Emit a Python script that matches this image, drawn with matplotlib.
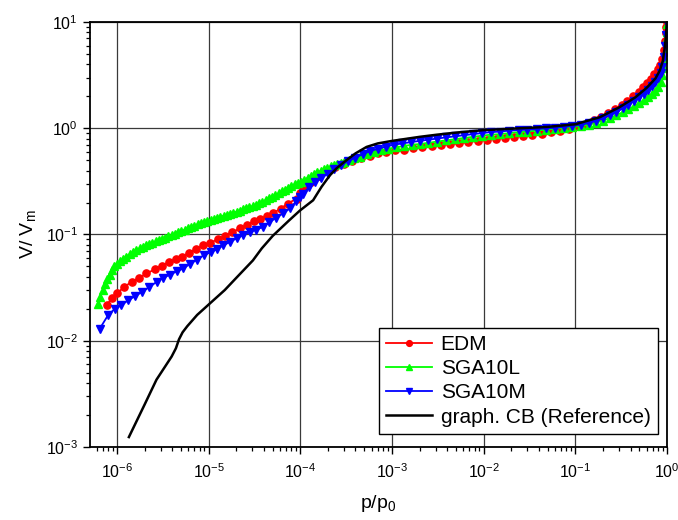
import matplotlib
matplotlib.use("Agg")
import matplotlib.pyplot as plt
from matplotlib.ticker import FixedLocator, LogLocator, LogFormatterMathtext, NullFormatter

plt.rcParams['font.family'] = ['Liberation Sans', 'DejaVu Sans']
plt.rcParams['mathtext.default'] = 'regular'
plt.rcParams['axes.unicode_minus'] = False

# --- EDM ---
edm_p = [7.7e-7, 8.8e-7, 1.0e-6, 1.2e-6, 1.45e-6, 1.75e-6, 2.1e-6, 2.6e-6, 3.1e-6, 3.7e-6,
         4.4e-6, 5.1e-6, 6.1e-6, 7.3e-6, 8.7e-6, 1.03e-5, 1.25e-5, 1.5e-5, 1.8e-5, 2.2e-5,
         2.6e-5, 3.1e-5, 3.6e-5, 4.3e-5, 5.1e-5, 6.1e-5, 7.3e-5, 9.1e-5, 1.0e-4, 1.08e-4,
         1.3e-4, 1.6e-4, 2.0e-4, 2.4e-4, 3.0e-4, 3.7e-4, 4.6e-4, 5.7e-4, 7.0e-4, 8.7e-4,
         1.07e-3, 1.35e-3, 1.7e-3, 2.1e-3, 2.7e-3, 3.4e-3, 4.3e-3, 5.4e-3, 6.8e-3, 8.6e-3,
         1.08e-2, 1.36e-2, 1.7e-2, 2.15e-2, 2.7e-2, 3.4e-2, 4.3e-2, 5.4e-2, 6.8e-2, 8.5e-2,
         0.105, 0.13, 0.16, 0.19, 0.23, 0.27, 0.32, 0.37, 0.43, 0.49,
         0.55, 0.61, 0.67, 0.73, 0.79, 0.84, 0.88, 0.92, 0.95, 0.97, 0.985, 0.995]
edm_v = [0.0216, 0.025, 0.028, 0.032, 0.036, 0.039, 0.043, 0.047, 0.051, 0.055,
         0.059, 0.062, 0.067, 0.073, 0.079, 0.083, 0.090, 0.097, 0.105, 0.114,
         0.123, 0.133, 0.140, 0.148, 0.160, 0.175, 0.195, 0.218, 0.245, 0.27,
         0.31, 0.355, 0.40, 0.43, 0.46, 0.49, 0.52, 0.55, 0.58, 0.60,
         0.62, 0.63, 0.645, 0.66, 0.675, 0.69, 0.71, 0.72, 0.74, 0.76,
         0.78, 0.80, 0.81, 0.83, 0.85, 0.87, 0.89, 0.92, 0.95, 0.99,
         1.04, 1.10, 1.19, 1.28, 1.39, 1.52, 1.67, 1.82, 2.0, 2.2,
         2.42, 2.65, 2.9, 3.25, 3.6, 3.95, 4.5, 5.5, 6.6, 7.8, 8.9, 10.0]

# --- SGA10L ---
sgal_p = [6.25e-7, 6.6e-7, 7.0e-7, 7.4e-7, 7.8e-7, 8.3e-7, 8.8e-7, 9.4e-7, 1.0e-6, 1.08e-6,
          1.17e-6, 1.27e-6, 1.38e-6, 1.5e-6, 1.63e-6, 1.77e-6, 1.92e-6, 2.08e-6, 2.25e-6, 2.44e-6,
          2.65e-6, 2.87e-6, 3.1e-6, 3.37e-6, 3.65e-6, 3.96e-6, 4.3e-6, 4.66e-6, 5.05e-6, 5.5e-6,
          5.95e-6, 6.45e-6, 7.0e-6, 7.6e-6, 8.25e-6, 8.95e-6, 9.7e-6, 1.05e-5, 1.14e-5, 1.24e-5,
          1.34e-5, 1.46e-5, 1.58e-5, 1.71e-5, 1.86e-5, 2.02e-5, 2.19e-5, 2.37e-5, 2.57e-5, 2.79e-5,
          3.03e-5, 3.28e-5, 3.56e-5, 3.86e-5, 4.19e-5, 4.54e-5, 4.93e-5, 5.35e-5, 5.8e-5, 6.3e-5,
          6.8e-5, 7.4e-5, 8.0e-5, 8.7e-5, 9.45e-5, 1.03e-4, 1.11e-4, 1.21e-4, 1.31e-4, 1.42e-4,
          1.54e-4, 1.67e-4, 1.81e-4, 1.97e-4, 2.14e-4, 2.32e-4, 2.52e-4, 2.75e-4, 3.0e-4, 3.4e-4,
          3.9e-4, 4.5e-4, 5.3e-4, 6.3e-4, 7.5e-4, 9.0e-4, 1.1e-3, 1.35e-3, 1.65e-3, 2.0e-3,
          2.5e-3, 3.1e-3, 3.9e-3, 4.9e-3, 6.1e-3, 7.6e-3, 9.5e-3, 1.2e-2, 1.5e-2, 1.9e-2,
          2.4e-2, 3.0e-2, 3.8e-2, 4.8e-2, 6.0e-2, 7.5e-2, 9.3e-2, 0.115, 0.14, 0.17,
          0.2, 0.24, 0.28, 0.33, 0.38, 0.44, 0.5, 0.56, 0.62, 0.68,
          0.74, 0.8, 0.85, 0.89, 0.92, 0.95, 0.97, 0.98, 0.99, 0.997]
sgal_v = [0.0224, 0.026, 0.030, 0.034, 0.038, 0.042, 0.046, 0.050, 0.053, 0.056,
          0.059, 0.062, 0.065, 0.068, 0.071, 0.074, 0.077, 0.079, 0.081, 0.083,
          0.086, 0.088, 0.091, 0.093, 0.096, 0.099, 0.102, 0.105, 0.108, 0.111,
          0.114, 0.118, 0.121, 0.125, 0.128, 0.131, 0.134, 0.138, 0.141, 0.144,
          0.147, 0.150, 0.153, 0.157, 0.160, 0.164, 0.168, 0.172, 0.176, 0.180,
          0.185, 0.190, 0.196, 0.203, 0.211, 0.219, 0.227, 0.235, 0.244, 0.254,
          0.265, 0.276, 0.287, 0.297, 0.305, 0.315, 0.328, 0.342, 0.356, 0.37,
          0.384, 0.398, 0.412, 0.425, 0.437, 0.45, 0.462, 0.474, 0.485, 0.50,
          0.52, 0.54, 0.57, 0.60, 0.62, 0.64, 0.66, 0.68, 0.70, 0.71,
          0.73, 0.75, 0.77, 0.79, 0.81, 0.83, 0.85, 0.87, 0.88, 0.90,
          0.92, 0.93, 0.95, 0.97, 0.99, 1.01, 1.03, 1.05, 1.08, 1.13,
          1.18, 1.25, 1.32, 1.42, 1.51, 1.62, 1.73, 1.85, 1.98, 2.1,
          2.22, 2.42, 2.75, 3.2, 3.7, 4.5, 5.5, 6.7, 8.0, 9.5]

# --- SGA10M ---
sgam_p = [6.5e-7, 8.0e-7, 9.5e-7, 1.12e-6, 1.32e-6, 1.58e-6, 1.9e-6, 2.25e-6, 2.71e-6, 3.2e-6,
          3.8e-6, 4.5e-6, 5.3e-6, 6.3e-6, 7.5e-6, 8.9e-6, 1.05e-5, 1.24e-5, 1.45e-5, 1.7e-5,
          2.02e-5, 2.4e-5, 2.8e-5, 3.3e-5, 3.94e-5, 4.6e-5, 5.4e-5, 6.5e-5, 7.7e-5, 9.0e-5,
          1.0e-4, 1.08e-4, 1.25e-4, 1.45e-4, 1.7e-4, 2.0e-4, 2.35e-4, 2.8e-4, 3.3e-4, 4.0e-4,
          4.8e-4, 5.8e-4, 7.0e-4, 8.5e-4, 1.05e-3, 1.3e-3, 1.6e-3, 2.0e-3, 2.5e-3, 3.1e-3,
          3.9e-3, 4.9e-3, 6.1e-3, 7.6e-3, 9.5e-3, 1.2e-2, 1.5e-2, 1.9e-2, 2.4e-2, 3.0e-2,
          3.8e-2, 4.8e-2, 6.0e-2, 7.5e-2, 9.3e-2, 0.115, 0.14, 0.17, 0.2, 0.24,
          0.28, 0.33, 0.38, 0.44, 0.5, 0.56, 0.62, 0.68, 0.74, 0.8,
          0.85, 0.89, 0.93, 0.96, 0.98, 0.995]
sgam_v = [0.013, 0.0174, 0.020, 0.0216, 0.024, 0.0263, 0.029, 0.032, 0.0358, 0.039,
          0.042, 0.045, 0.048, 0.053, 0.058, 0.064, 0.068, 0.073, 0.079, 0.085,
          0.092, 0.099, 0.105, 0.111, 0.118, 0.13, 0.143, 0.158, 0.176, 0.205,
          0.225, 0.243, 0.28, 0.31, 0.34, 0.375, 0.41, 0.45, 0.49, 0.53,
          0.57, 0.61, 0.64, 0.67, 0.70, 0.72, 0.74, 0.76, 0.78, 0.80,
          0.82, 0.84, 0.86, 0.88, 0.90, 0.92, 0.93, 0.95, 0.96, 0.97,
          0.98, 1.0, 1.01, 1.03, 1.05, 1.08, 1.12, 1.18, 1.24, 1.33,
          1.42, 1.54, 1.66, 1.82, 1.97, 2.12, 2.3, 2.5, 2.7, 2.95,
          3.3, 3.8, 4.7, 6.0, 7.6, 9.8]

# --- graph. CB (Reference) ---
ref_p = [1.35e-6, 2.0e-6, 2.7e-6, 3.3e-6, 3.95e-6, 4.4e-6, 4.75e-6, 5.2e-6, 5.85e-6, 7.5e-6,
         1.03e-5, 1.5e-5, 2.0e-5, 3.04e-5, 3.8e-5, 5.0e-5, 7.5e-5, 9.9e-5, 1.38e-4, 1.7e-4,
         2.1e-4, 2.49e-4, 3.0e-4, 4.0e-4, 5.28e-4, 7.0e-4, 1.0e-3, 1.5e-3, 2.0e-3, 3.1e-3,
         5.0e-3, 1.0e-2, 2.0e-2, 5.0e-2, 0.1, 0.185, 0.3, 0.45, 0.6, 0.75,
         0.835, 0.9, 0.946, 0.975, 0.993, 1.0]
ref_v = [0.00124, 0.0025, 0.0043, 0.0056, 0.0071, 0.0085, 0.0103, 0.0120, 0.0137, 0.0175,
         0.0224, 0.030, 0.039, 0.057, 0.074, 0.097, 0.135, 0.168, 0.21, 0.28,
         0.36, 0.42, 0.48, 0.58, 0.667, 0.72, 0.76, 0.80, 0.83, 0.87,
         0.91, 0.96, 0.99, 1.03, 1.09, 1.27, 1.57, 1.95, 2.4, 2.95,
         3.5, 4.3, 5.8, 7.5, 9.5, 10.5]

x_major = [1e-6, 1e-5, 1e-4, 1e-3, 1e-2, 1e-1, 1e0]
y_major = [1e-3, 1e-2, 1e-1, 1e0, 1e1]

fig = plt.figure(figsize=(6.78, 5.2), dpi=100)
ax = fig.add_axes([0.1327, 0.1404, 0.8511, 0.8173])

ax.plot(edm_p, edm_v, color='#ff0000', lw=1.3, marker='o', ms=5.2,
        mec='#ff0000', mfc='#ff0000', label='EDM')
ax.plot(sgal_p, sgal_v, color='#00ff00', lw=1.3, marker='^', ms=5.2,
        mec='#00ff00', mfc='#00ff00', label='SGA10L')
ax.plot(sgam_p, sgam_v, color='#0000ff', lw=1.3, marker='v', ms=5.2,
        mec='#0000ff', mfc='#0000ff', label='SGA10M')
ax.plot(ref_p, ref_v, color='black', lw=1.8, label='graph. CB (Reference)')

ax.set_xscale('log')
ax.set_yscale('log')
ax.set_xlim(5.08e-7, 1.0)
ax.set_ylim(1e-3, 10)

ax.xaxis.set_major_locator(FixedLocator(x_major))
ax.yaxis.set_major_locator(FixedLocator(y_major))
ax.xaxis.set_minor_locator(LogLocator(base=10, subs=range(2, 10), numticks=40))
ax.yaxis.set_minor_locator(LogLocator(base=10, subs=range(2, 10), numticks=40))
ax.xaxis.set_major_formatter(LogFormatterMathtext())
ax.yaxis.set_major_formatter(LogFormatterMathtext())
ax.xaxis.set_minor_formatter(NullFormatter())
ax.yaxis.set_minor_formatter(NullFormatter())

ax.tick_params(which='major', direction='out', length=5, width=1.0,
               labelsize=11.5, top=False, right=False, color='black')
ax.tick_params(which='minor', direction='out', length=3, width=0.9,
               top=False, right=False, color='black')
ax.tick_params(axis='x', which='major', pad=6)

ax.grid(True, which='major', color='#3a3a3a', lw=0.9)
ax.set_axisbelow(True)
for s in ax.spines.values():
    s.set_linewidth(1.3)
    s.set_color('black')
    s.set_zorder(5)

ax.set_xlabel('p/p$_0$', fontsize=14, labelpad=9)
ax.set_ylabel('V/ V$_m$', fontsize=14, labelpad=6)

leg = ax.legend(loc='lower right', bbox_to_anchor=(0.984, 0.031), borderaxespad=0,
                fontsize=15, frameon=True, fancybox=False, edgecolor='black',
                framealpha=1, handlelength=2.2, handletextpad=0.4, labelspacing=0.25,
                borderpad=0.35, markerscale=0.8)
leg.get_frame().set_linewidth(1.0)

fig.savefig('out.png', dpi=100)
